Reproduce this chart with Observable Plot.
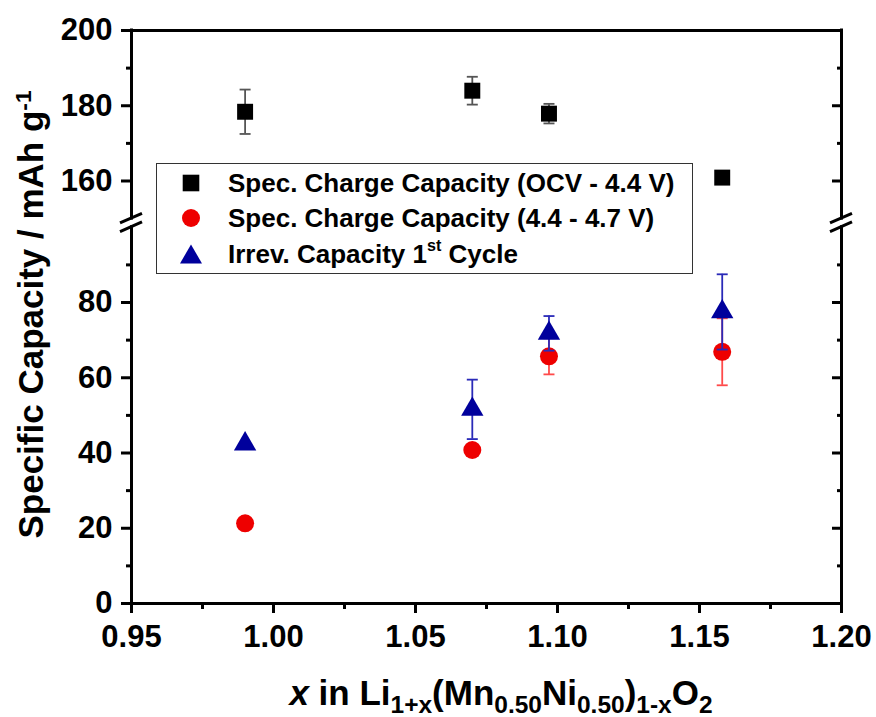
<!DOCTYPE html>
<html>
<head>
<meta charset="utf-8">
<script src="https://cdn.jsdelivr.net/npm/d3@7"></script>
<script src="https://cdn.jsdelivr.net/npm/@observablehq/plot@0.6"></script>
<style>
  body { margin: 0; background: #fff; font-family: "Liberation Sans", Arial, sans-serif; }
  #wrap { position: relative; width: 876px; height: 717px; overflow: hidden; background: #fff; }
  #chart svg { display: block; }
  #legend { position: absolute; left: 156px; top: 163px; width: 535px; height: 109px; border: 1.5px solid #333; background: #fff; font-weight: bold; font-size: 26px; }
  #legend .row { position: absolute; left: 0; height: 36px; line-height: 36px; width: 100%; }
  #legend .row svg { position: absolute; left: 21px; top: 5px; }
  #legend .row span { position: absolute; left: 71px; top: 0; white-space: nowrap; }
  #legend sup { font-size: 0.62em; position: relative; top: -0.1em; vertical-align: super; line-height: 0; }
  #xlabel { position: absolute; left: 0; width: 1002px; top: 675px; text-align: center; font-weight: bold; font-size: 35px; line-height: 35px; white-space: nowrap; }
  #xlabel sub { font-size: 0.7em; vertical-align: baseline; position: relative; top: 0.33em; line-height: 0; }
</style>
</head>
<body>
<div id="wrap">
  <div id="chart"></div>
  <div id="legend"></div>
  <div id="xlabel"><i>x</i> in Li<sub>1+x</sub>(Mn<sub>0.50</sub>Ni<sub>0.50</sub>)<sub>1-x</sub>O<sub>2</sub></div>
</div>
<script>
// ---- data ----
const xValues = [0.99, 1.07, 1.097, 1.158];
const chargeOCV = [178.4, 184.0, 177.9, 160.9];
const chargeOCVErr = [5.9, 3.7, 2.6, 0];
const chargeHigh = [21.3, 40.8, 65.7, 66.9];
const chargeHighErr = [0, 0, 4.8, 8.9];
const irrevCap = [42.4, 51.6, 71.8, 77.5];
const irrevCapErr = [0, 7.9, 4.6, 10.0];

const seriesNames = [
  "Spec. Charge Capacity (OCV - 4.4 V)",
  "Spec. Charge Capacity (4.4 - 4.7 V)",
  "Irrev. Capacity 1st Cycle"
];

const xTicks = [0.95, 1.00, 1.05, 1.10, 1.15, 1.20];
const xMinorTicks = [0.975, 1.025, 1.075, 1.125, 1.175];
const yLowerTicks = [0, 20, 40, 60, 80];
const yLowerMinor = [10, 30, 50, 70, 90];
const yUpperTicks = [160, 180, 200];
const yUpperMinor = [170, 190];
const xDomain = [0.95, 1.20];
const breakLow = 100, breakHigh = 150, yMax = 200, gapUnits = 2.3;

// ---- broken axis mapping ----
const disp = v => v <= breakLow ? v : v - breakHigh + breakLow + gapUnits;
const undisp = d => d <= breakLow + gapUnits / 2 ? d : d + breakHigh - breakLow - gapUnits;

// ---- styles (kept apart from data) ----
const styles = [
  {symbol: "square", fill: "#000000", err: "#555555", r: 9},
  {symbol: "circle", fill: "#ee0000", err: "#ff4a4a", r: 9},
  {symbol: "triangle", fill: "#00009c", err: "#2a2ab8", r: 8.3}
];

const seriesValues = [chargeOCV, chargeHigh, irrevCap];
const seriesErrs = [chargeOCVErr, chargeHighErr, irrevCapErr];

const rows = [];
seriesValues.forEach((vals, s) => {
  vals.forEach((v, i) => rows.push({s, x: xValues[i], v, err: seriesErrs[s][i]}));
});

const capSymbol = {
  draw(context, size) {
    const w = Math.sqrt(size / Math.PI);
    context.moveTo(-w, 0);
    context.lineTo(w, 0);
  }
};

function breakMarks(index, scales) {
  const {x, y} = scales;
  const g = d3.create("svg:g").attr("stroke", "black").attr("stroke-width", 3);
  for (const xv of xDomain) {
    for (const yv of [breakLow, disp(breakHigh)]) {
      const px = x(xv), py = y(yv);
      g.append("line")
        .attr("x1", px - 11).attr("y1", py + 4.8)
        .attr("x2", px + 11).attr("y2", py - 4.8);
    }
  }
  return g.node();
}

function yLabelMark(index, scales, values, dimensions) {
  const cy = (dimensions.marginTop + dimensions.height - dimensions.marginBottom) / 2;
  const g = d3.create("svg:g");
  const t = g.append("text")
    .attr("transform", `translate(43,${cy - 2}) rotate(-90)`)
    .attr("text-anchor", "middle")
    .attr("font-size", 35)
    .attr("font-weight", "bold")
    .attr("font-family", "Liberation Sans, Arial, sans-serif")
    .attr("fill", "black");
  t.append("tspan").text("Specific Capacity / mAh g");
  t.append("tspan").attr("dy", "-0.55em").attr("font-size", "0.65em").text("-1");
  return g.node();
}

const errMarks = [];
styles.forEach((st, s) => {
  const data = rows.filter(d => d.s === s && d.err > 0);
  errMarks[s] = [
    Plot.ruleX(data, {x: "x", y1: d => disp(d.v - d.err), y2: d => disp(d.v + d.err), stroke: st.err, strokeWidth: 1.8}),
    Plot.dot(data, {x: "x", y: d => disp(d.v - d.err), symbol: capSymbol, r: 5.5, stroke: st.err, strokeWidth: 1.8}),
    Plot.dot(data, {x: "x", y: d => disp(d.v + d.err), symbol: capSymbol, r: 5.5, stroke: st.err, strokeWidth: 1.8})
  ];
});
const dotMarks = styles.map((st, s) =>
  Plot.dot(rows.filter(d => d.s === s), {x: "x", y: d => disp(d.v), symbol: st.symbol, r: st.r, fill: st.fill, stroke: "none"})
);

const yMajor = [...yLowerTicks, ...yUpperTicks].map(disp);
const yMinor = [...yLowerMinor, ...yUpperMinor].map(disp);

const chart = Plot.plot({
  width: 876,
  height: 660,
  marginLeft: 131,
  marginRight: 35,
  marginTop: 30,
  marginBottom: 57,
  style: {fontFamily: "Liberation Sans, Arial, sans-serif", fontWeight: "bold", fontSize: "31px", background: "#fff", overflow: "visible"},
  x: {domain: xDomain},
  y: {domain: [0, disp(yMax)]},
  marks: [
    // frame
    Plot.ruleY([0, disp(yMax)], {stroke: "black", strokeWidth: 3, strokeLinecap: "square"}),
    Plot.ruleX(xDomain, {y1: 0, y2: breakLow, stroke: "black", strokeWidth: 3, strokeLinecap: "square"}),
    Plot.ruleX(xDomain, {y1: disp(breakHigh), y2: disp(yMax), stroke: "black", strokeWidth: 3, strokeLinecap: "square"}),
    breakMarks,
    // left axis
    Plot.axisY(yMajor, {anchor: "left", tickSize: 10, tickPadding: 9, strokeWidth: 3, fontSize: 31, fontWeight: "bold", tickFormat: d => String(Math.round(undisp(d))), label: null}),
    Plot.axisY(yMinor, {anchor: "left", tickSize: 5, strokeWidth: 3, tickFormat: () => "", label: null}),
    // right axis (inward ticks)
    Plot.axisY(yMajor, {anchor: "right", tickSize: 10, dx: -10, strokeWidth: 3, tickFormat: () => "", label: null}),
    Plot.axisY(yMinor, {anchor: "right", tickSize: 5, dx: -5, strokeWidth: 3, tickFormat: () => "", label: null}),
    // bottom axis
    Plot.axisX(xTicks, {anchor: "bottom", tickSize: 10, tickPadding: 11, strokeWidth: 3, fontSize: 31, fontWeight: "bold", tickFormat: d3.format(".2f"), label: null}),
    Plot.axisX(xMinorTicks, {anchor: "bottom", tickSize: 6, strokeWidth: 3, tickFormat: () => "", label: null}),
    yLabelMark,
    // data
    ...errMarks[0], dotMarks[0],
    ...errMarks[1], dotMarks[1],
    ...errMarks[2], dotMarks[2]
  ]
});
document.getElementById("chart").appendChild(chart);

// legend
const legend = document.getElementById("legend");
const rowCenters = [18.5, 54, 89.5];
const legendSymbol = [
  `<svg width="26" height="26"><rect x="4.7" y="4.7" width="16.6" height="16.6" fill="${styles[0].fill}"/></svg>`,
  `<svg width="26" height="26"><circle cx="13" cy="13" r="9" fill="${styles[1].fill}"/></svg>`,
  `<svg width="26" height="26"><path d="M13,3.5 L24,22.5 L2,22.5 Z" fill="${styles[2].fill}"/></svg>`
];
seriesNames.forEach((name, i) => {
  const row = document.createElement("div");
  row.className = "row";
  row.style.top = (rowCenters[i] - 18) + "px";
  const label = name.replace("1st", "1<sup>st</sup>");
  row.innerHTML = legendSymbol[i] + `<span>${label}</span>`;
  legend.appendChild(row);
});
</script>
</body>
</html>
